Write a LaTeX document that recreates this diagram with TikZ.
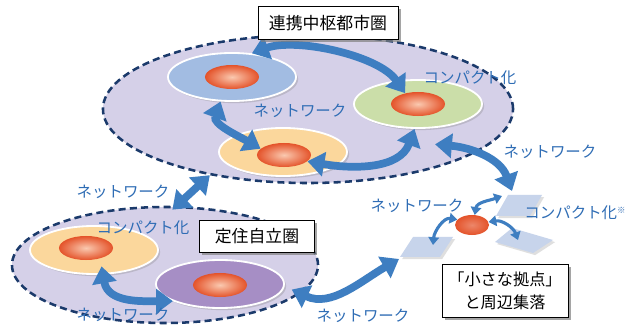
\documentclass[tikz,border=0pt]{standalone}
\usepackage{fontspec}
\setmainfont{Noto Sans CJK JP}
\usetikzlibrary{shapes,arrows.meta,shadows}
\definecolor{navy}{HTML}{1B3A6B}
\definecolor{lavender}{HTML}{D5D0E8}
\definecolor{netblue}{HTML}{3E7EC1}
\definecolor{labelblue}{HTML}{2F6DB5}
\definecolor{townblue}{HTML}{A2BCE2}
\definecolor{towngreen}{HTML}{CBDEA9}
\definecolor{townyellow}{HTML}{FBD79C}
\definecolor{townpurple}{HTML}{A68EC5}
\definecolor{coreinner}{HTML}{FAC9B0}
\definecolor{coreouter}{HTML}{E4532A}
\definecolor{plotblue}{HTML}{C7D4EB}

\begin{document}
\begin{tikzpicture}[x=0.025cm, y=-0.025cm,
  area/.style={ellipse, draw=navy, line width=1.8pt, dash pattern=on 5pt off 3pt, fill=lavender, inner sep=0pt},
  town/.style={ellipse, draw=white, line width=1.3pt, inner sep=0pt, minimum width=3.2cm, minimum height=1.2cm,
    drop shadow={opacity=0.3, shadow xshift=1.5pt, shadow yshift=-1.5pt}},
  core/.style={ellipse, inner sep=0pt, minimum width=1.35cm, minimum height=0.6cm, inner color=coreinner, outer color=coreouter},
  net/.style={draw=netblue, line width=5.5pt, >={Triangle[width=17pt,length=12pt]}, <->},
  twig/.style={draw=netblue, line width=2.2pt, >={Triangle[width=7.5pt,length=5.5pt]}, <->},
  lbl/.style={text=labelblue, font=\fontsize{11}{13}\selectfont},
  title/.style={draw=black, line width=0.6pt, fill=white, inner sep=0pt, font=\fontsize{12}{16}\selectfont,
    drop shadow={opacity=0.7, shadow xshift=2pt, shadow yshift=-2pt}},
  plot/.style={fill=plotblue, drop shadow={opacity=0.25, shadow xshift=1.5pt, shadow yshift=-1.5pt}}
]
\path[use as bounding box, fill=white] (0,0) rectangle (638,327);

\node[area, minimum width=10.25cm, minimum height=3.7cm] (metro) at (308,109) {};
\node[area, minimum width=7.65cm, minimum height=2.9cm] (settle) at (165,265) {};

\foreach \n/\x/\y/\c/\u/\v in {blue/232/77/townblue/232/77, green/418/104/towngreen/418/104,
    yellow/283/152/townyellow/284/155, yellowb/94/250/townyellow/86/248, purple/220/284/townpurple/220/285} {
  \node[town, fill=\c] (\n) at (\x,\y) {};
  \node[core] (c\n) at (\u,\v) {};
}

\path[plot] (508,195) -- (542,195) -- (530,216) -- (496,216) -- cycle;
\path[plot] (413,237) -- (453,237) -- (440,257) -- (400,257) -- cycle;
\path[plot] (512,228) -- (553,240) -- (533,253) -- (495,242) -- cycle;
\node[ellipse, inner sep=0pt, minimum width=0.85cm, minimum height=0.5cm, inner color=coreouter!70!white, outer color=coreouter] (chub) at (472,225) {};
\coordinate (q1) at (512,191);
\coordinate (q2) at (399,259);
\coordinate (q3) at (502,196);
\coordinate (q4) at (433,245);
\coordinate (q5) at (518,240);

\draw[net] (blue.50) to[out=20,in=125,looseness=0.75] (cgreen.140);
\draw[net] (blue.245) to[out=250,in=150] (cyellow.165);
\draw[net] (cyellow.-15) to[out=-10,in=250] (green.262);
\draw[net] ([shift={(3,16)}]green.-60) to[out=-5,in=110] (q1);
\draw[net, shorten >=-4pt] (metro.214) -- (settle.79);
\draw[net, shorten <=-6pt] (yellowb.290) to[out=-80,in=180] (purple.200);
\draw[net] ([xshift=6pt]purple.-5) to[out=-25,in=210] (q2);
\draw[twig] (chub.75) to[out=80,in=200] (q3);
\draw[twig] (chub.160) to[out=170,in=85] (q4);
\draw[twig] (chub.10) to[out=10,in=110] (q5);

\node[lbl] (net1) at (300,111) {ネットワーク};
\node[lbl] (cmp1) at (470,78) {コンパクト化};
\node[lbl] (net2) at (550,152) {ネットワーク};
\node[lbl] (net3) at (417,206) {ネットワーク};
\node[lbl] (cmp2) at (575,213) {コンパクト化\raisebox{0.6ex}{\fontsize{6}{6}\selectfont ※}};
\node[lbl] (net4) at (123,192) {ネットワーク};
\node[lbl] (cmp3) at (143,228) {コンパクト化};
\node[lbl] (net5) at (123,315) {ネットワーク};
\node[lbl] (net6) at (363,316) {ネットワーク};

\node[title, minimum width=3.5cm, minimum height=0.82cm] (metrotitle) at (328,23) {連携中枢都市圏};
\node[title, minimum width=2.88cm, minimum height=0.8cm] (settletitle) at (257,236) {定住自立圏};
\node[title, minimum width=3.15cm, minimum height=1.33cm, align=center, font=\fontsize{11.5}{16}\selectfont] (hubtitle) at (505,291) {「小さな拠点」\\と周辺集落};
\end{tikzpicture}
\end{document}
